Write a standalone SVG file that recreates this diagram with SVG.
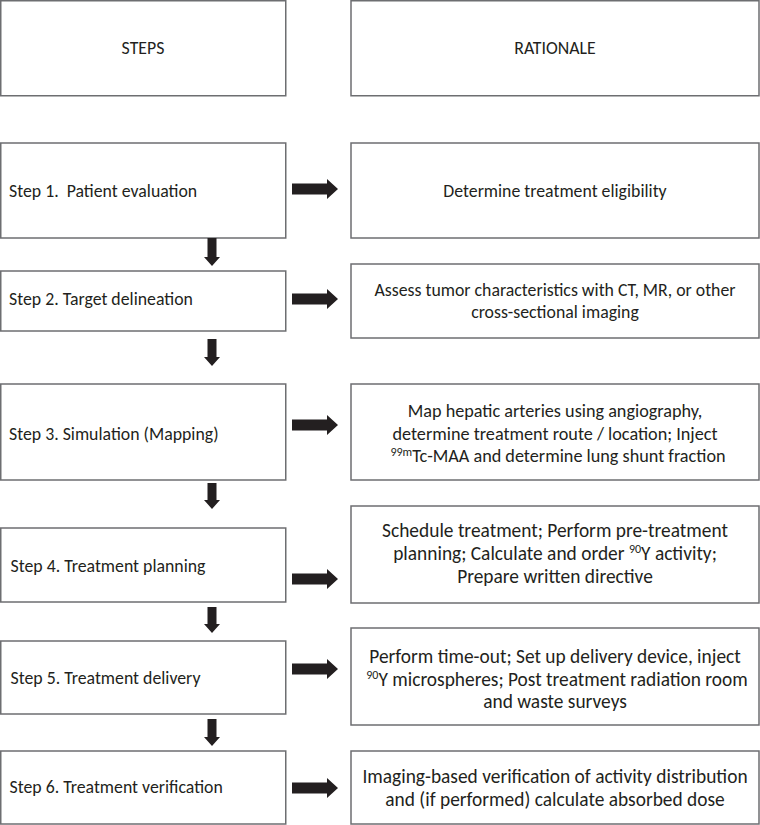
<svg xmlns="http://www.w3.org/2000/svg" width="760" height="825" viewBox="0 0 760 825">
<style>
.box{fill:#fff;stroke:#6d6e71;stroke-width:1.5}
text{font-family:Carlito,Calibri,Lato,"Liberation Sans",sans-serif;font-size:17.8px;fill:#231f20}
.c{text-anchor:middle}
.m{font-size:18.2px}
.l{font-size:19.4px}
.arr{fill:#231f20}
.sup{font-size:12px}
</style>
<rect width="760" height="825" fill="#fff"/>
<g id="hdr-steps"><rect class="box" x="0.75" y="0.75" width="285" height="95"/><text class="c" x="143" y="54">STEPS</text></g>
<g id="hdr-rationale"><rect class="box" x="351" y="0.75" width="408" height="95"/><text class="c" x="555" y="54">RATIONALE</text></g>

<g id="step1"><rect class="box" x="0.75" y="143" width="285" height="95"/><text x="9" y="197" xml:space="preserve" style="white-space:pre">Step 1.  Patient evaluation</text></g>
<g id="step2"><rect class="box" x="0.75" y="271" width="285" height="60"/><text x="9" y="305">Step 2. Target delineation</text></g>
<g id="step3"><rect class="box" x="0.75" y="384" width="285" height="96"/><text x="9" y="440">Step 3. Simulation (Mapping)</text></g>
<g id="step4"><rect class="box" x="0.75" y="528" width="285" height="74"/><text x="10.5" y="572">Step 4. Treatment planning</text></g>
<g id="step5"><rect class="box" x="0.75" y="641" width="285" height="73"/><text x="10.5" y="684">Step 5. Treatment delivery</text></g>
<g id="step6"><rect class="box" x="0.75" y="751" width="285" height="73"/><text x="9.5" y="793">Step 6. Treatment verification</text></g>

<g id="rat1"><rect class="box" x="351" y="143" width="408" height="95"/><text class="c" x="555" y="197">Determine treatment eligibility</text></g>
<g id="rat2"><rect class="box" x="351" y="264" width="408" height="74"/><text class="c" x="555" y="296">Assess tumor characteristics with CT, MR, or other</text><text class="c" x="555" y="318">cross-sectional imaging</text></g>
<g id="rat3"><rect class="box" x="351" y="384" width="408" height="96"/><text class="c m" x="555" y="417">Map hepatic arteries using angiography,</text><text class="c m" x="555" y="440">determine treatment route / location; Inject</text><text class="c m" x="558" y="462"><tspan class="sup" dy="-6.5">99m</tspan><tspan dy="6.5">Tc-MAA and determine lung shunt fraction</tspan></text></g>
<g id="rat4"><rect class="box" x="351" y="506" width="408" height="97"/><text class="c l" x="555" y="537">Schedule treatment; Perform pre-treatment</text><text class="c l" x="555" y="560">planning; Calculate and order <tspan class="sup" dy="-7">90</tspan><tspan dy="7">Y activity;</tspan></text><text class="c l" x="555" y="583">Prepare written directive</text></g>
<g id="rat5"><rect class="box" x="351" y="628" width="408" height="97"/><text class="c l" x="555" y="663">Perform time-out; Set up delivery device, inject</text><text class="c l" x="557" y="686"><tspan class="sup" dy="-7">90</tspan><tspan dy="7">Y microspheres; Post treatment radiation room</tspan></text><text class="c l" x="555" y="708">and waste surveys</text></g>
<g id="rat6"><rect class="box" x="351" y="751" width="408" height="73"/><text class="c l" x="555" y="783">Imaging-based verification of activity distribution</text><text class="c l" x="555" y="806">and (if performed) calculate absorbed dose</text></g>

<defs>
<path id="ra" d="M0,-5.5 H35 V-10 L46,0 L35,10 V5.5 H0 Z"/>
</defs>
<g id="connectors" class="arr">
<use href="#ra" x="292" y="189"/>
<use href="#ra" x="292" y="299"/>
<use href="#ra" x="292" y="425"/>
<use href="#ra" x="292" y="579"/>
<use href="#ra" x="292" y="669"/>
<use href="#ra" x="292" y="788"/>
<path d="M207.5,238 H216.5 V257 H220 L212,266 L204,257 H207.5 Z"/>
<path d="M207.5,339 H216.5 V357 H220 L212,366 L204,357 H207.5 Z"/>
<path d="M207.5,483 H216.5 V500 H220 L212,509 L204,500 H207.5 Z"/>
<path d="M207.5,607 H216.5 V624 H220 L212,633 L204,624 H207.5 Z"/>
<path d="M207.5,719 H216.5 V737 H220 L212,746 L204,737 H207.5 Z"/>
</g>
</svg>
